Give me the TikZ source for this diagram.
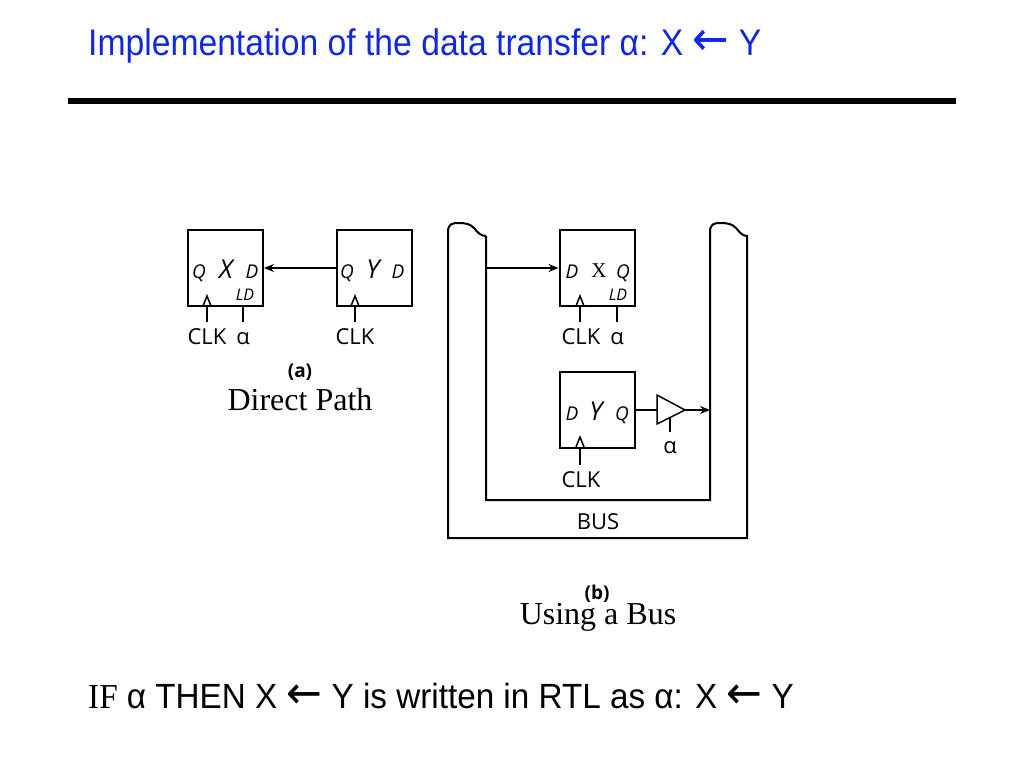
\documentclass[tikz,border=0pt]{standalone}
\usepackage{fontspec}
\setmainfont{Liberation Sans}
\newfontfamily\lblfont{Open Sans}
\newfontfamily\seriffont{Liberation Serif}
\newfontfamily\arrfont{DejaVu Sans}
\newcommand{\larr}[1]{{\arrfont\fontsize{#1}{#1}\selectfont ←}}
\usetikzlibrary{arrows.meta}
\definecolor{titleblue}{RGB}{16,40,224}
\begin{document}
\begin{tikzpicture}[x=1pt,y=-1pt,
 ff/.style={draw, line width=2pt, minimum width=75pt, minimum height=76pt, inner sep=0pt},
 wire/.style={line width=1.5pt},
 arr/.style={wire, -{Stealth[length=10pt,width=8pt]}},
 lbl/.style={font=\lblfont\fontsize{22}{22}\selectfont, inner sep=0pt, anchor=base},
 pin/.style={font=\lblfont\itshape\fontsize{19}{19}\selectfont, inner sep=0pt, anchor=base},
 small/.style={font=\lblfont\itshape\fontsize{16}{16}\selectfont, inner sep=0pt, anchor=base},
 big/.style={font=\lblfont\itshape\fontsize{26}{26}\selectfont, inner sep=0pt, anchor=base},
 captxt/.style={font=\seriffont\fontsize{32}{32}\selectfont, inner sep=0pt, anchor=base},
 sub/.style={font=\lblfont\bfseries\fontsize{19}{19}\selectfont, inner sep=0pt, anchor=base},
 alph/.style={font=\lblfont\fontsize{22}{22}\selectfont, inner sep=0pt, anchor=base},
]
\useasboundingbox (0,0) rectangle (1024,768);
% title
\node[anchor=base west, inner sep=0pt, text=titleblue, font=\fontsize{37}{37}\selectfont, xscale=0.91] (title) at (88,56) {Implementation of the data transfer α: X \larr{48} Y};
\draw[line width=6pt] (68,101) -- (956,101);

% ---------- (a) Direct path ----------
\node[ff] (xa) at (225.5,268) {};
\node[ff] (ya) at (374,268) {};
\draw[arr] (ya.west) -- (xa.east);
\node[pin] (xaq) at (199,278) {Q};
\node[big] (xax) at (226,278) {X};
\node[pin] (xad) at (252,278) {D};
\node[small] (xald) at (245,300) {LD};
\node[pin] (yaq) at (347,278) {Q};
\node[big] (yay) at (373,278) {Y};
\node[pin] (yad) at (398,278) {D};
% clocks
\draw[wire] (203,306) -- (207,296) -- (211,306);
\draw[wire] (207,306) -- (207,322);
\draw[wire] (243,306) -- (243,322);
\draw[wire] (351,306) -- (355,296) -- (359,306);
\draw[wire] (355,306) -- (355,322);
\node[lbl] (clka) at (207,344) {CLK};
\node[alph] (ala) at (243,344) {α};
\node[lbl] (clkb) at (355,344) {CLK};
\node[sub] (capa) at (300,377) {(a)};
\node[captxt] (dp) at (300,410) {Direct Path};

% ---------- (b) Using a bus ----------
\draw[line width=2pt]
  (486,236) -- (486,500) -- (710,500) -- (710,232)
  .. controls (710,224) and (714,223) .. (720,223)
  .. controls (728,223) and (732,224) .. (736,228)
  .. controls (740,233) and (743,236) .. (747,236)
  -- (747,538) -- (448,538) -- (448,232)
  .. controls (448,224) and (452,223) .. (458,223)
  .. controls (466,223) and (470,224) .. (474,228)
  .. controls (478,233) and (481,236) .. (486,236);
\coordinate (busin) at (486,268);
\coordinate (busout) at (710,410);
\node[ff] (xb) at (597,268) {};
\node[ff] (yb) at (597,409.5) {};
\draw[arr] (busin) -- (xb.west);
\node[pin] (xbd) at (572,278) {D};
\node[font=\seriffont\fontsize{21}{21}\selectfont, inner sep=0pt, anchor=base] (xbx) at (599,277) {X};
\node[pin] (xbq) at (623,278) {Q};
\node[small] (xbld) at (618,300) {LD};
\draw[wire] (576,306) -- (580,296) -- (584,306);
\draw[wire] (580,306) -- (580,322);
\draw[wire] (617,306) -- (617,322);
\node[lbl] (clkc) at (581,344) {CLK};
\node[alph] (alb) at (617,344) {α};

\node[pin] (ybd) at (572,420) {D};
\node[big] (yby) at (596,420) {Y};
\node[pin] (ybq) at (622,420) {Q};
\draw[wire] (576,447) -- (580,437) -- (584,447);
\draw[wire] (580,447) -- (580,465);
\node[lbl] (clkd) at (581,487) {CLK};
% buffer
\coordinate (bufin) at (657,410);
\coordinate (bufout) at (685,410);
\draw[wire] (yb.east |- bufin) -- (bufin);
\draw[wire] (657,395) -- (bufout) -- (657,424) -- cycle;
\draw[wire] (670,417.5) -- (670,432);
\draw[arr] (bufout) -- (busout);
\node[alph] (alc) at (670,453) {α};
\node[lbl] (bus) at (598,529) {BUS};
\node[sub] (capb) at (597,599) {(b)};
\node[captxt] (ub) at (598,624) {Using a Bus};

% bottom line
\node[anchor=base west, inner sep=0pt, font=\fontsize{35}{35}\selectfont, xscale=0.95] (rtl) at (88,708) {{\seriffont IF} α THEN X \larr{45} Y is written in RTL as α: X \larr{45} Y};
\end{tikzpicture}
\end{document}
